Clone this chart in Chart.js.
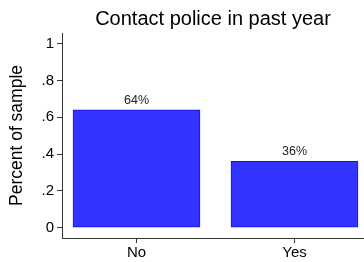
<!DOCTYPE html>
<html>
<head>
<meta charset="utf-8">
<script src="https://cdn.jsdelivr.net/npm/chart.js@4/dist/chart.umd.min.js"></script>
<style>
html,body{margin:0;padding:0;background:#fff;}
#wrap{width:364px;height:262px;position:relative;}
</style>
</head>
<body>
<div id="wrap"><canvas id="c" width="364" height="262"></canvas></div>
<script>
const chartTitle = 'Contact police in past year';
const yAxisTitle = 'Percent of sample';
const categories = ['No', 'Yes'];
const values = [0.64, 0.36];
const yTickValues = [0, 0.2, 0.4, 0.6, 0.8, 1];
const yTickLabels = ['0', '.2', '.4', '.6', '.8', '1'];

const FONT = '"Liberation Sans", Arial, Helvetica, sans-serif';

const overlay = {
  id: 'overlay',
  afterDraw(chart) {
    const ctx = chart.ctx;
    const ca = chart.chartArea;
    ctx.save();
    ctx.fillStyle = '#000';
    ctx.font = '20px ' + FONT;
    ctx.textAlign = 'center';
    ctx.textBaseline = 'alphabetic';
    ctx.fillText(chartTitle, (ca.left + ca.right) / 2, 25);
    const meta = chart.getDatasetMeta(0);
    ctx.font = '12.5px ' + FONT;
    ctx.fillStyle = '#222';
    meta.data.forEach((bar, i) => {
      const v = values[i];
      ctx.fillText(Math.round(v * 100) + '%', bar.x, bar.y - 6);
    });
    ctx.restore();
  }
};

new Chart(document.getElementById('c'), {
  type: 'bar',
  data: {
    datasets: [{
      data: values.map((v, i) => ({ x: i, y: v })),
      backgroundColor: '#3333ff',
      borderColor: '#1414e6',
      borderWidth: 1,
      borderSkipped: false,
      barThickness: 127
    }]
  },
  options: {
    responsive: false,
    animation: false,
    devicePixelRatio: 1,
    layout: { padding: { top: 33, left: 0, right: 0, bottom: 0 } },
    plugins: { legend: { display: false }, tooltip: { enabled: false }, title: { display: false } },
    scales: {
      x: {
        type: 'linear',
        min: -0.4715,
        max: 1.44,
        offset: false,
        afterBuildTicks: s => { s.ticks = categories.map((c, i) => ({ value: i })); },
        afterFit: s => { s.height = 24; },
        ticks: {
          callback: v => categories[v] ?? '',
          font: { family: FONT, size: 15 },
          color: '#000',
          padding: 1,
          maxRotation: 0,
          autoSkip: false
        },
        grid: { offset: false, drawOnChartArea: false, drawTicks: true, tickLength: 5, color: '#333', lineWidth: 1 },
        border: { display: true, color: '#333', width: 1 }
      },
      y: {
        type: 'linear',
        min: -0.056,
        max: 1.058,
        afterBuildTicks: s => { s.ticks = yTickValues.map(v => ({ value: v })); },
        afterFit: s => { s.width = 62; },
        ticks: {
          callback: v => { const i = yTickValues.findIndex(t => Math.abs(t - v) < 1e-9); return i >= 0 ? yTickLabels[i] : ''; },
          font: { family: FONT, size: 15 },
          color: '#000',
          padding: 3,
          autoSkip: false
        },
        title: {
          display: true,
          text: yAxisTitle,
          font: { family: FONT, size: 17.5 },
          color: '#000',
          padding: { top: 7, bottom: 0 }
        },
        grid: { offset: false, drawOnChartArea: false, drawTicks: true, tickLength: 5, color: '#333', lineWidth: 1 },
        border: { display: true, color: '#333', width: 1 }
      }
    }
  },
  plugins: [overlay]
});
</script>
</body>
</html>
